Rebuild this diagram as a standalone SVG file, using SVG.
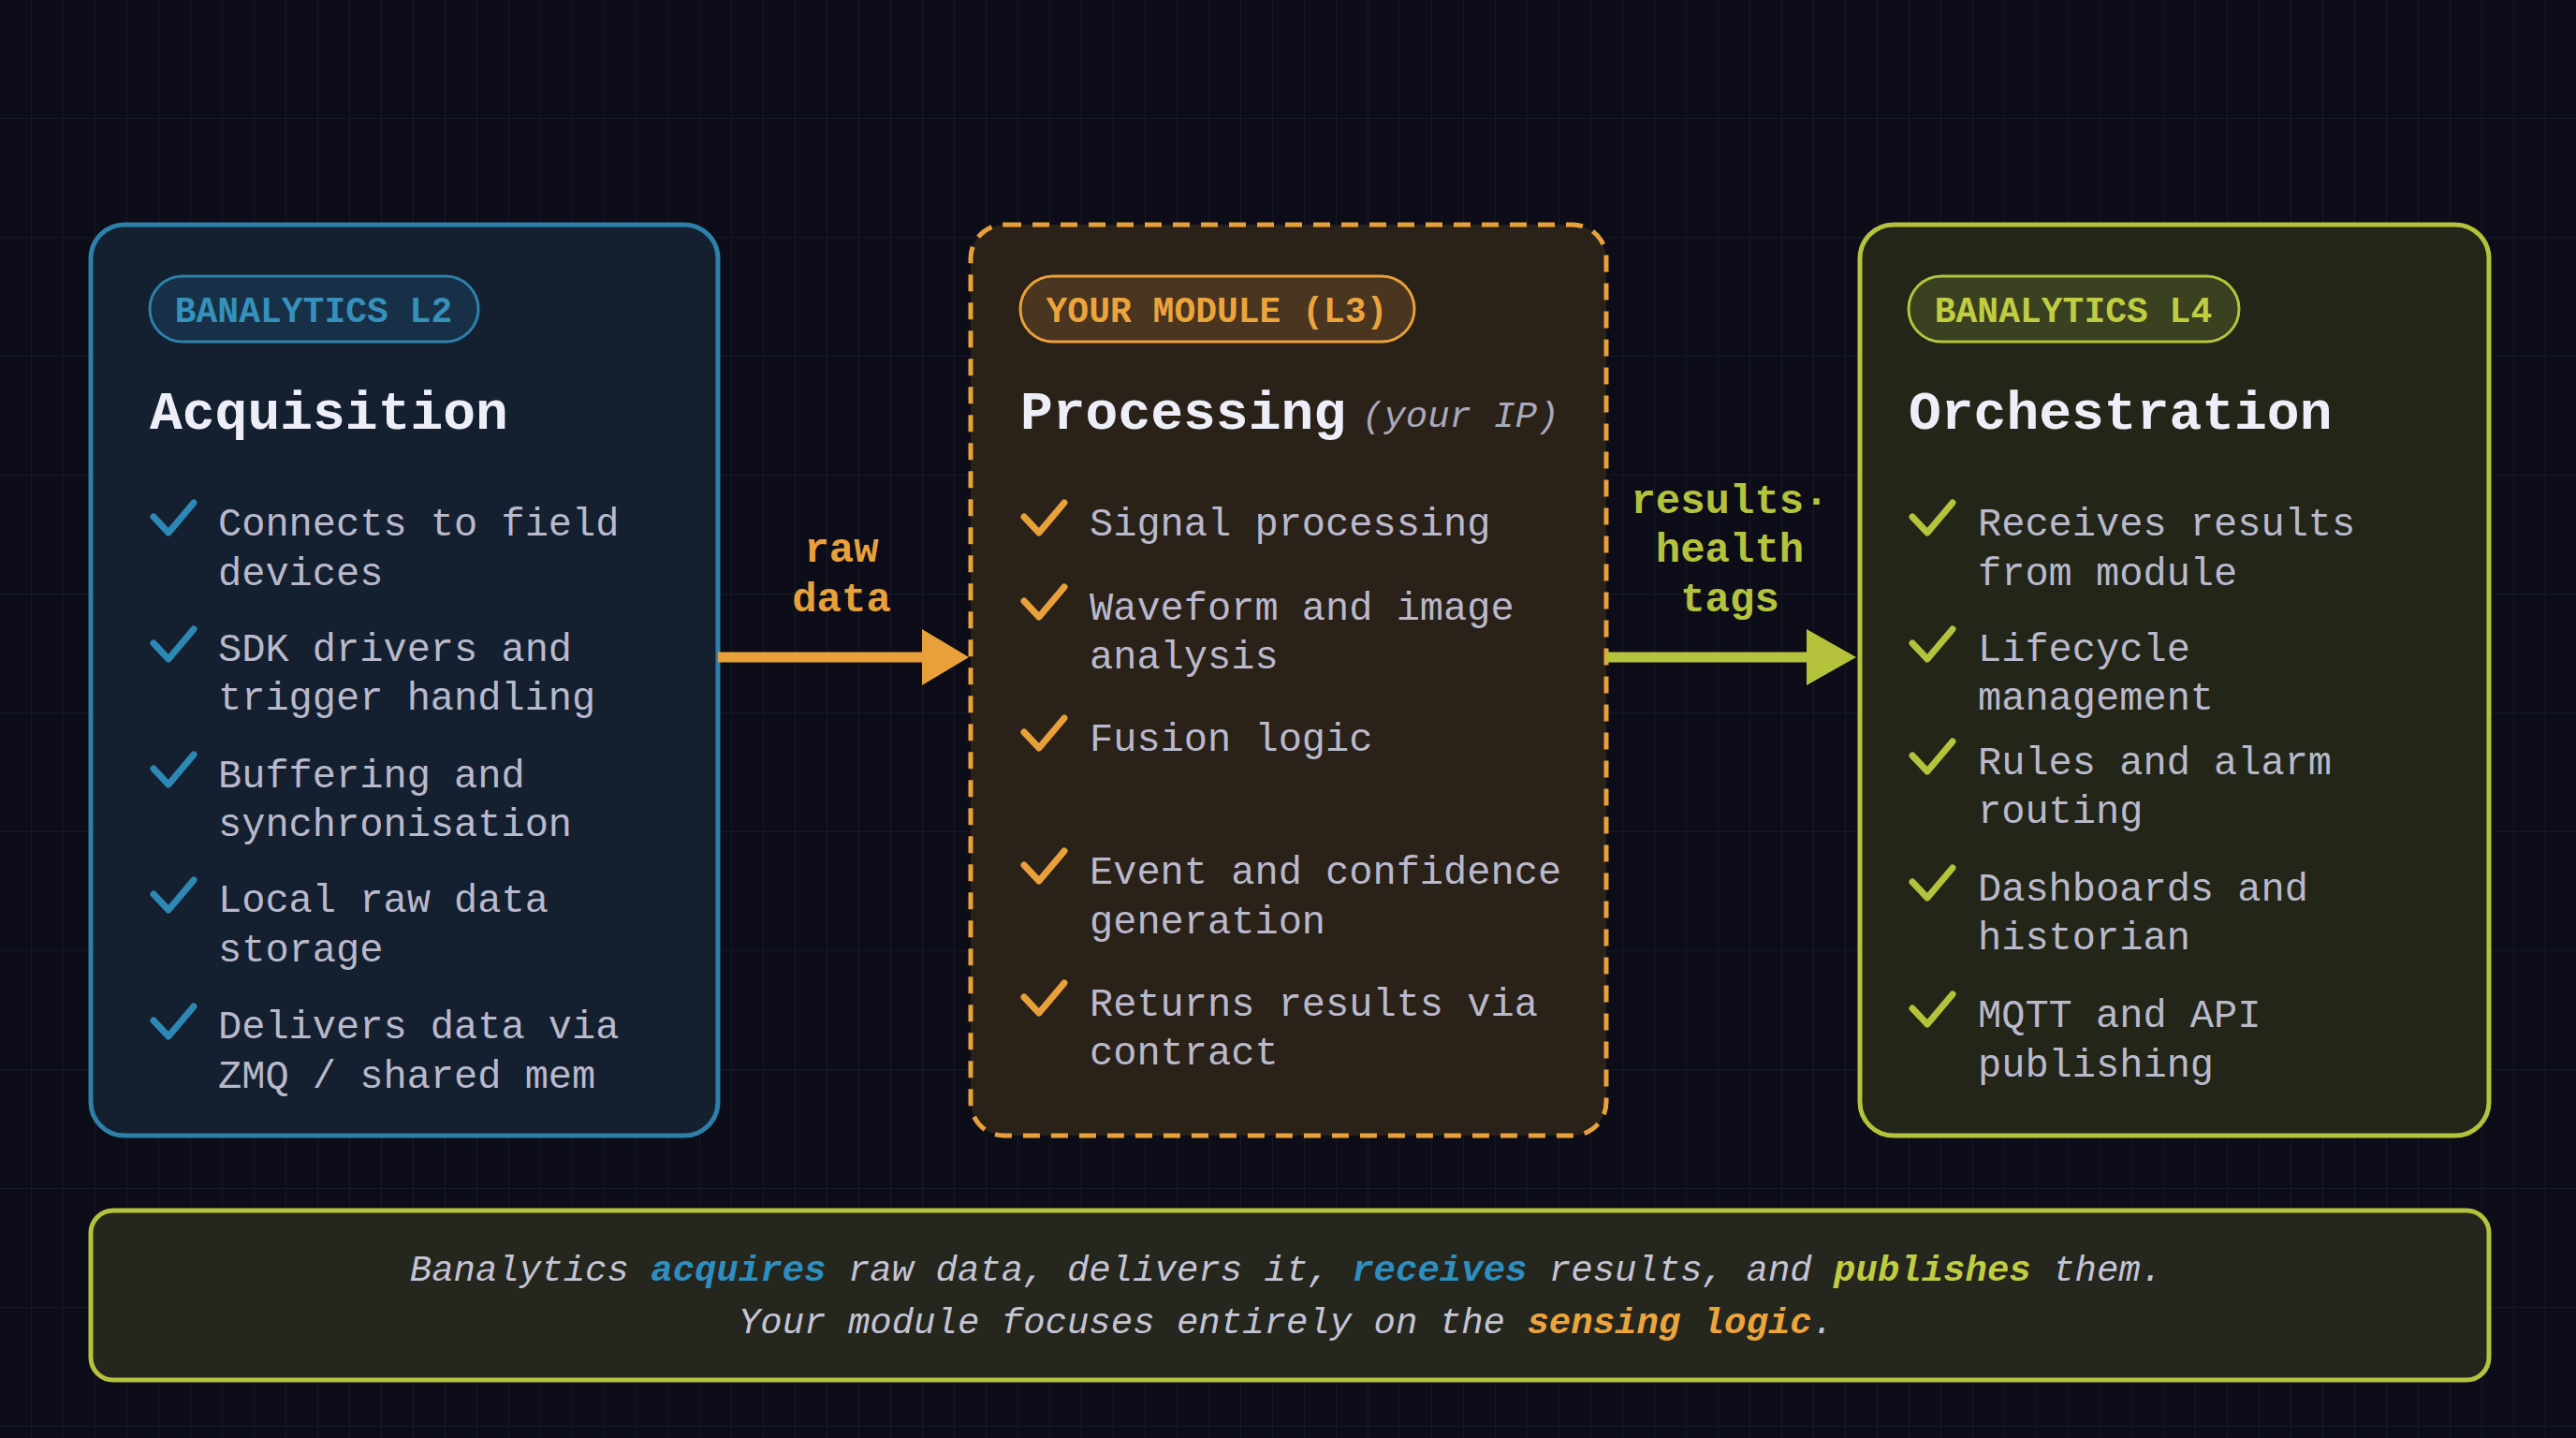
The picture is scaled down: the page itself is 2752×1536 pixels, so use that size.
<svg xmlns="http://www.w3.org/2000/svg" width="2752" height="1536" viewBox="0 0 2752 1536">
<defs>
<pattern id="grid" width="34" height="127" patternUnits="userSpaceOnUse">
<path d="M34 0V127M0 127H34" fill="none" stroke="#1a1d2b" stroke-width="1.5"/>
</pattern>
</defs>
<style>
.mono{font-family:"Liberation Mono","DejaVu Sans Mono",monospace}
.pill{font-family:"Liberation Mono","DejaVu Sans Mono",monospace;font-weight:bold;font-size:38px}
.title{font-family:"Liberation Mono","DejaVu Sans Mono",monospace;font-weight:bold;font-size:58px;fill:#eeeef8}
.item{font-family:"Liberation Mono","DejaVu Sans Mono",monospace;font-size:42px;fill:#b9b9cb}
.chk{fill:none;stroke-width:7;stroke-linecap:round;stroke-linejoin:round}
.lbl{font-family:"Liberation Mono","DejaVu Sans Mono",monospace;font-weight:bold;font-size:44px;text-anchor:middle}
.foot{font-family:"Liberation Mono","DejaVu Sans Mono",monospace;font-style:italic;font-size:39px;fill:#c4c4d4;text-anchor:middle}
</style>
<rect width="2752" height="1536" fill="#0c0d18"/>
<rect width="2752" height="1536" fill="url(#grid)"/>

<g id="acquisition">
<rect x="97" y="240" width="670" height="973" rx="36" fill="#142030" stroke="#2d80aa" stroke-width="5"/>
<rect x="160" y="295" width="351" height="70" rx="35" fill="#173047" stroke="#2d80aa" stroke-width="3"/>
<text class="pill" x="335" y="344" text-anchor="middle" fill="#3590bb">BANALYTICS L2</text>
<text class="title" x="160" y="458">Acquisition</text>
<g stroke="#2d88b5" class="chk">
<path d="M164 552l16 17 27-32"/><path d="M164 687l16 17 27-32"/><path d="M164 821l16 17 27-32"/><path d="M164 955l16 17 27-32"/><path d="M164 1090l16 17 27-32"/>
</g>
<text class="item" x="233" y="572">Connects to field</text>
<text class="item" x="233" y="625">devices</text>
<text class="item" x="233" y="706">SDK drivers and</text>
<text class="item" x="233" y="758">trigger handling</text>
<text class="item" x="233" y="841">Buffering and</text>
<text class="item" x="233" y="893">synchronisation</text>
<text class="item" x="233" y="974">Local raw data</text>
<text class="item" x="233" y="1027">storage</text>
<text class="item" x="233" y="1109">Delivers data via</text>
<text class="item" x="233" y="1162">ZMQ / shared mem</text>
</g>

<g id="processing">
<rect x="1037" y="240" width="679" height="973" rx="36" fill="#2a2119" stroke="#e8a03a" stroke-width="5" stroke-dasharray="18 12"/>
<rect x="1090" y="295" width="421" height="70" rx="35" fill="#4a3520" stroke="#e8a03a" stroke-width="3"/>
<text class="pill" x="1300" y="344" text-anchor="middle" fill="#eca43c">YOUR MODULE (L3)</text>
<text class="title" x="1090" y="458">Processing</text>
<text class="mono" x="1455" y="456" font-size="39" font-style="italic" fill="#a9a9bb">(your IP)</text>
<g stroke="#e8a03a" class="chk">
<path d="M1094 552l16 17 27-32"/><path d="M1094 642l16 17 27-32"/><path d="M1094 782l16 17 27-32"/><path d="M1094 924l16 17 27-32"/><path d="M1094 1065l16 17 27-32"/>
</g>
<text class="item" x="1164" y="572">Signal processing</text>
<text class="item" x="1164" y="662">Waveform and image</text>
<text class="item" x="1164" y="714">analysis</text>
<text class="item" x="1164" y="802">Fusion logic</text>
<text class="item" x="1164" y="944">Event and confidence</text>
<text class="item" x="1164" y="997">generation</text>
<text class="item" x="1164" y="1085">Returns results via</text>
<text class="item" x="1164" y="1137">contract</text>
</g>

<g id="orchestration">
<rect x="1987" y="240" width="672" height="973" rx="36" fill="#222518" stroke="#b5c23c" stroke-width="5"/>
<rect x="2039" y="295" width="353" height="70" rx="35" fill="#3a4120" stroke="#b5c23c" stroke-width="3"/>
<text class="pill" x="2215" y="344" text-anchor="middle" fill="#c0cc42">BANALYTICS L4</text>
<text class="title" x="2039" y="458">Orchestration</text>
<g stroke="#b5c23c" class="chk">
<path d="M2043 552l16 17 27-32"/><path d="M2043 687l16 17 27-32"/><path d="M2043 807l16 17 27-32"/><path d="M2043 942l16 17 27-32"/><path d="M2043 1077l16 17 27-32"/>
</g>
<text class="item" x="2113" y="572">Receives results</text>
<text class="item" x="2113" y="625">from module</text>
<text class="item" x="2113" y="706">Lifecycle</text>
<text class="item" x="2113" y="758">management</text>
<text class="item" x="2113" y="827">Rules and alarm</text>
<text class="item" x="2113" y="879">routing</text>
<text class="item" x="2113" y="962">Dashboards and</text>
<text class="item" x="2113" y="1014">historian</text>
<text class="item" x="2113" y="1097">MQTT and API</text>
<text class="item" x="2113" y="1150">publishing</text>
</g>

<g id="connectors">
<line x1="767" y1="702" x2="990" y2="702" stroke="#e8a03a" stroke-width="11"/>
<path d="M985 672L1035 702L985 732Z" fill="#e8a03a"/>
<text class="lbl" x="899" y="600" fill="#e8a03a">raw</text>
<text class="lbl" x="899" y="653" fill="#e8a03a">data</text>
<line x1="1716" y1="702" x2="1935" y2="702" stroke="#b5c23c" stroke-width="11"/>
<path d="M1930 672L1983 702L1930 732Z" fill="#b5c23c"/>
<text class="lbl" x="1848" y="548" fill="#b5c23c">results·</text>
<text class="lbl" x="1848" y="600" fill="#b5c23c">health</text>
<text class="lbl" x="1848" y="653" fill="#b5c23c">tags</text>
</g>

<g id="summary">
<rect x="97" y="1293" width="2562" height="181" rx="24" fill="#25261e" stroke="#b5c23c" stroke-width="5"/>
<text class="foot" x="1374" y="1368">Banalytics <tspan font-weight="bold" fill="#2d8fc0">acquires</tspan> raw data, delivers it, <tspan font-weight="bold" fill="#2d8fc0">receives</tspan> results, and <tspan font-weight="bold" fill="#c0cc42">publishes</tspan> them.</text>
<text class="foot" x="1374" y="1424">Your module focuses entirely on the <tspan font-weight="bold" fill="#eca43c">sensing logic</tspan>.</text>
</g>
</svg>
